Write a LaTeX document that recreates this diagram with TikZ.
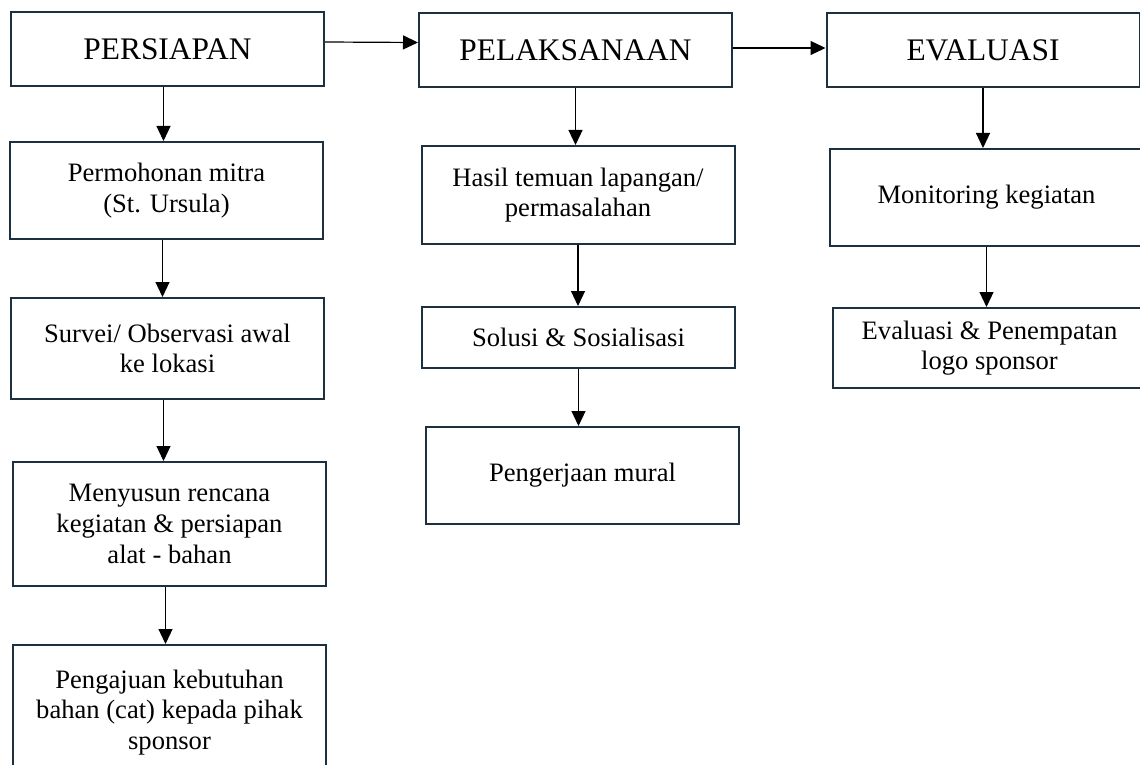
\documentclass[tikz,border=0pt]{standalone}
\usepackage{fontspec}
\setmainfont{Liberation Serif}
\usetikzlibrary{arrows.meta}
\definecolor{boxline}{RGB}{28,48,64}

\begin{document}
\begin{tikzpicture}[x=0.5pt, y=-0.5pt,
  main node/.style={rectangle,draw=boxline,line width=1pt,minimum width=156.5pt,
    inner sep=0pt,align=center,font=\fontsize{13.3}{15.3}\selectfont},
  phase node/.style={main node,minimum height=37pt,font=\fontsize{15.7}{18}\selectfont},
  arrow/.style={-{Triangle[length=7.5pt,width=7pt]},line width=0.6pt}]

\useasboundingbox (0,0) rectangle (1140,765);
\clip (0,0) rectangle (1140,765);
\fill[white] (0,0) rectangle (1140,765);

% persiapan
\node[phase node] (A) at (167.5,49.5) {PERSIAPAN};
\node[main node, minimum height=48.5pt] (B) at (166.5,190.5) {Permohonan mitra\\(St. Ursula)};
\node[main node, minimum height=50.5pt] (C) at (167.5,348.5) {Survei/ Observasi awal\\ke lokasi};
\node[main node, minimum height=62pt] (D) at (169.5,524) {Menyusun rencana\\kegiatan \& persiapan\\alat - bahan};
\node[main node, minimum height=67.5pt] (E) at (169.5,712.5) {Pengajuan kebutuhan\\bahan (cat) kepada pihak\\sponsor};

% pelaksanaan
\node[phase node] (F) at (575.5,50) {PELAKSANAAN};
\node[main node, minimum height=49pt] (G) at (578,195) {Hasil temuan lapangan/\\permasalahan};
\node[main node, minimum height=30.5pt] (H) at (578.5,337.5) {Solusi \& Sosialisasi};
\node[main node, minimum height=48.5pt] (I) at (582.5,475.5) {Pengerjaan mural};

% evaluasi
\node[phase node] (J) at (983,50) {EVALUASI};
\node[main node, minimum height=48.5pt] (K) at (986.5,197.5) {Monitoring kegiatan};
\node[main node, minimum height=40pt] (L) at (989.5,348) {Evaluasi \& Penempatan\\logo sponsor};

\draw[arrow] ([yshift=3.75pt]A.east) -- ([yshift=3.75pt]F.west);
\draw[arrow] ([yshift=1pt]F.east) -- ([yshift=1pt]J.west);

\draw[arrow] ([xshift=-2pt]A.south) -- ([xshift=-2pt]A.south |- B.north);
\draw[arrow] ([xshift=-2pt]B.south) -- ([xshift=-2pt]B.south |- C.north);
\draw[arrow] ([xshift=-2pt]C.south) -- ([xshift=-2pt]C.south |- D.north);
\draw[arrow] ([xshift=-2pt]D.south) -- ([xshift=-2pt]D.south |- E.north);
\draw[arrow] (F.south) -- (F.south |- G.north);
\draw[arrow] (G.south) -- (G.south |- H.north);
\draw[arrow] (H.south) -- (H.south |- I.north);
\draw[arrow] (J.south) -- (J.south |- K.north);
\draw[arrow] (K.south) -- (K.south |- L.north);

\end{tikzpicture}
\end{document}
